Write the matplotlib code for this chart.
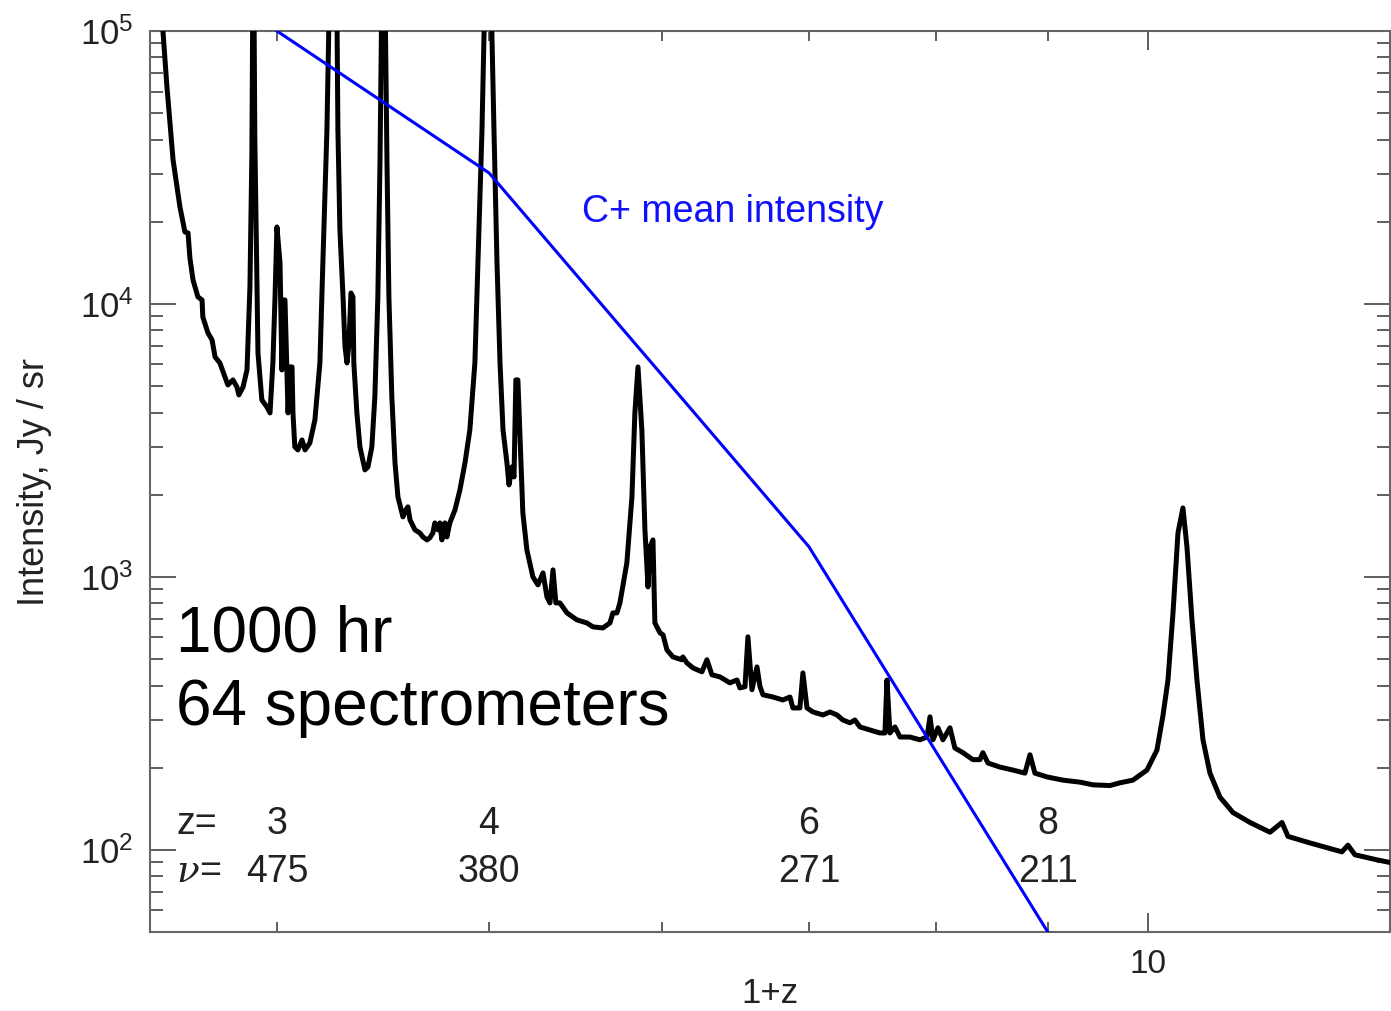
import math
import matplotlib
matplotlib.use('Agg')
import matplotlib.pyplot as plt
from matplotlib.ticker import FixedLocator, FuncFormatter, NullFormatter
import matplotlib.transforms as mtransforms

plt.rcParams['font.family'] = ['Liberation Sans', 'DejaVu Sans']
plt.rcParams['mathtext.fontset'] = 'custom'
plt.rcParams['mathtext.rm'] = 'Liberation Sans'
plt.rcParams['mathtext.it'] = 'Liberation Sans:italic'

# ---- noise / sensitivity curve (1+z, Jy/sr) ----
one_plus_z = [
    3.537, 3.548, 3.563, 3.586, 3.612, 3.631, 3.643, 3.650, 3.662, 3.681,
    3.697, 3.700, 3.720, 3.736, 3.748, 3.767, 3.787, 3.799, 3.819, 3.835,
    3.843, 3.860, 3.876, 3.888, 3.896, 3.902, 3.908, 3.917, 3.921, 3.937,
    3.958, 3.971, 3.983, 3.992, 4.000,
    4.013, 4.021, 4.025, 4.034, 4.042, 4.047, 4.055, 4.064, 4.068, 4.076,
    4.089, 4.107, 4.120, 4.141, 4.163, 4.185, 4.198, 4.216, 4.225, 4.243,
    4.261, 4.265, 4.274, 4.288, 4.297, 4.306, 4.315, 4.324, 4.333, 4.337,
    4.351, 4.365, 4.388, 4.402, 4.420, 4.434, 4.448, 4.458, 4.474, 4.491,
    4.500, 4.514, 4.529, 4.543, 4.567, 4.581, 4.591, 4.601, 4.625, 4.649,
    4.664, 4.684, 4.698, 4.713, 4.723, 4.738, 4.748, 4.758, 4.773, 4.783,
    4.798, 4.824, 4.849, 4.875, 4.900, 4.926, 4.942, 4.963, 4.994, 5.026,
    5.042, 5.058, 5.074, 5.095, 5.106, 5.122, 5.133, 5.143, 5.154, 5.171,
    5.181, 5.203,
    5.236, 5.264, 5.292, 5.314, 5.331, 5.348, 5.364, 5.387, 5.427, 5.484,
    5.542, 5.577, 5.636, 5.678, 5.696, 5.720, 5.738, 5.780, 5.811, 5.829,
    5.848, 5.872, 5.891, 5.910, 5.922, 5.941, 5.953, 5.985, 6.004,
    6.029, 6.067, 6.125, 6.131, 6.157, 6.196, 6.255, 6.288, 6.321, 6.375,
    6.442, 6.490, 6.510, 6.545, 6.565, 6.593, 6.628, 6.649, 6.670, 6.740,
    6.811, 6.862, 6.883, 6.934, 6.956, 6.986, 7.030, 7.104, 7.157, 7.210,
    7.255, 7.309, 7.347, 7.386, 7.464, 7.543, 7.583, 7.599, 7.623, 7.663,
    7.704, 7.785, 7.867, 7.926, 7.951, 7.976, 8.018, 8.060, 8.120, 8.162,
    8.231, 8.318, 8.380, 8.406, 8.451, 8.558, 8.676, 8.786, 8.833, 8.879,
    8.992, 9.145, 9.310, 9.438, 9.608, 9.710, 9.843, 9.990, 10.095, 10.159,
    10.213, 10.267, 10.321, 10.375, 10.419, 10.474, 10.529, 10.596, 10.674,
    10.787, 10.935, 11.133, 11.370, 11.514, 11.587, 11.858, 12.264, 12.342,
    12.433, 12.724, 12.926,
]
intensity = [
    1.54e5, 1.0e5, 62340, 33690, 22660, 18350, 18200, 14740, 12240, 10610,
    10340, 8963, 7830, 7383, 6396, 6080, 5403, 5050, 5268, 4966,
    4642, 4966, 5731, 11540, 35730, 3.02e5, 40900, 11540, 6615, 4450,
    4195, 3988, 6080, 10610, 19150,
    14130, 5731, 10340, 10340, 5731, 3988, 5878, 5878, 3988, 2994,
    2919, 3176, 2919, 3096, 3760, 6080, 14130, 43380, 1.10e5, 4.6e5,
    1.10e5, 43380, 18670, 10610, 6960, 6080, 7198, 10970, 10610, 6080,
    3988, 2994, 2466, 2529, 2994, 4564, 10610, 32850, 4.6e5, 32850,
    10610, 4564, 2616, 1963, 1659, 1760, 1805, 1618, 1487, 1449,
    1401, 1366, 1390, 1449, 1577, 1487, 1577, 1366, 1577, 1401,
    1577, 1760, 2083, 2616, 3455, 6080, 14130, 43380, 4.6e5, 43380,
    14130, 6080, 3455, 2616, 2173, 2529, 2324, 5268, 5268, 2616,
    1716, 1256,
    1000, 935, 1034, 845, 803, 1061, 803, 803, 738, 696,
    678, 656, 650, 678, 738, 738, 803, 1125, 1963, 3988,
    5878, 3455, 1487, 919, 1288, 1366, 678, 624, 613,
    540, 509, 497, 509, 484, 464, 449, 497, 438, 430,
    409, 419, 392, 396, 603, 386, 468, 396, 370, 363,
    354, 363, 331, 331, 445, 331, 320, 312, 320, 312,
    299, 292, 299, 282, 275, 268, 268, 419, 268, 282,
    259, 259, 253, 259, 307, 253, 280, 253, 280, 236,
    227, 214, 214, 227, 208, 201, 196, 191, 223, 191,
    185, 180, 177, 173, 172, 176, 180, 196, 232, 310,
    419, 738, 1449, 1789, 1288, 696, 419, 253, 191,
    156, 137, 126, 116, 126, 112, 106, 98.3, 104,
    95.9, 91.9, 89.6,
]

# ---- C+ mean intensity model ----
cplus_one_plus_z = [4, 5, 7, 9]
cplus_intensity = [1.0e5, 3.02e4, 1.29e3, 50]

# ---- redshift / frequency annotations ----
label_z = [3, 4, 6, 8]
label_nu = [475, 380, 271, 211]

fig = plt.figure(figsize=(13.91, 10.11), dpi=100)
ax = fig.add_axes([150 / 1391, 1 - 932 / 1011, 1240 / 1391, 901 / 1011])

ax.plot(one_plus_z, intensity, color='black', lw=3.6, solid_joinstyle='round', zorder=3)
ax.plot(cplus_one_plus_z, cplus_intensity, color='#0000ff', lw=2.2, zorder=4)

ax.set_xscale('log')
ax.set_yscale('log')
ax.set_xlim(3.5, 12.9)
ax.set_ylim(50, 1e5)

ax.xaxis.set_major_locator(FixedLocator([10]))
ax.xaxis.set_minor_locator(FixedLocator([4, 5, 6, 7, 8, 9]))
ax.xaxis.set_major_formatter(FuncFormatter(lambda v, p: '%d' % round(v)))
ax.xaxis.set_minor_formatter(NullFormatter())

ax.yaxis.set_major_locator(FixedLocator([1e2, 1e3, 1e4, 1e5]))
ax.yaxis.set_minor_locator(FixedLocator([m * 10 ** e for e in range(1, 5) for m in range(2, 10)]))
ax.yaxis.set_major_formatter(FuncFormatter(lambda v, p: r'$\mathregular{10^{%d}}$' % round(math.log10(v))))
ax.yaxis.set_minor_formatter(NullFormatter())

tick_col = '#333333'
ax.tick_params(axis='both', which='both', direction='in', top=True, right=True, colors=tick_col,
               labelcolor='#222222')
ax.tick_params(axis='y', which='major', length=19, width=1.1, labelsize=25, pad=12)
ax.tick_params(axis='y', which='minor', length=9.5, width=1.1)
ax.tick_params(axis='x', which='major', length=14, width=1.1, labelsize=24, pad=12)
ax.tick_params(axis='x', which='minor', length=7, width=1.1)
for s in ax.spines.values():
    s.set_color('#666666')
    s.set_linewidth(1.5)

ax.set_xlabel('1+z', fontsize=25, color='#222222', labelpad=-2)
ax.set_ylabel('Intensity, Jy / sr', fontsize=26, color='#222222', labelpad=20)

# annotations
ax.text(0.3484, 0.788, 'C+ mean intensity', transform=ax.transAxes, color='#1010ff',
        fontsize=27, ha='left', va='baseline')
ax.text(0.021, 0.3108, '1000 hr', transform=ax.transAxes, fontsize=46, ha='left', va='baseline')
ax.text(0.021, 0.2297, '64 spectrometers', transform=ax.transAxes, fontsize=46, ha='left', va='baseline')

trans = mtransforms.blended_transform_factory(ax.transData, ax.transAxes)
ax.text(0.021, 0.1199, 'z=', transform=ax.transAxes, fontsize=27, ha='left', va='center', color='#222222')
ax.text(0.021, 0.0666, 'ν', transform=ax.transAxes, fontsize=27, ha='left', va='center',
        color='#222222', family=['DejaVu Serif'], style='italic')
ax.text(0.040, 0.0666, '=', transform=ax.transAxes, fontsize=27, ha='left', va='center', color='#222222')
for zz, nu in zip(label_z, label_nu):
    ax.text(1 + zz, 0.1199, '%d' % zz, transform=trans, fontsize=27, ha='center', va='center', color='#222222')
    ax.text(1 + zz, 0.0666, '%d' % nu, transform=trans, fontsize=27, ha='center', va='center', color='#222222')

fig.savefig('out.png', dpi=100)
